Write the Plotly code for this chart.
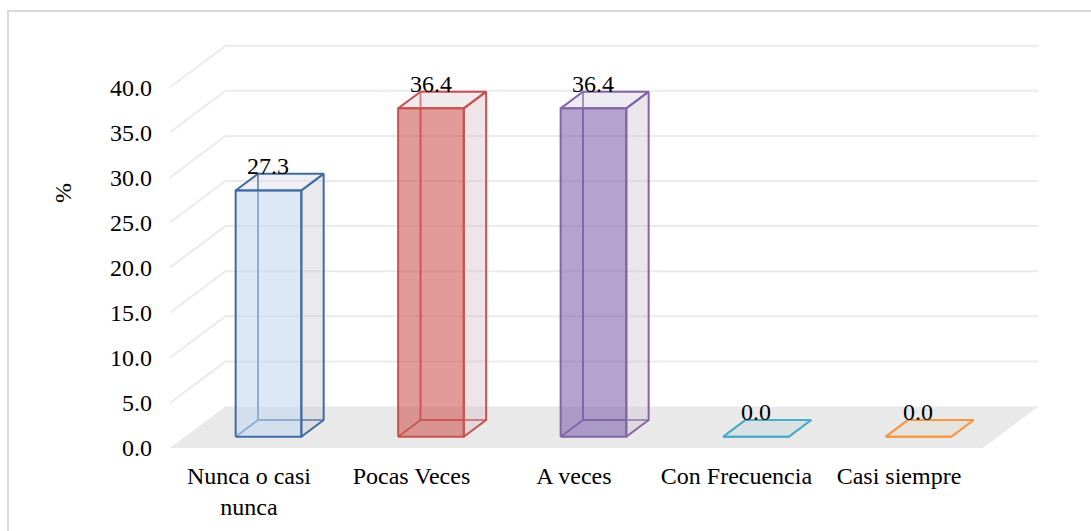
import plotly.graph_objects as go

# Response categories and their percentages
categories = ["Nunca o casi<br>nunca", "Pocas Veces", "A veces", "Con Frecuencia", "Casi siempre"]
percentages = [27.3, 36.4, 36.4, 0.0, 0.0]
y_ticks = [0, 5, 10, 15, 20, 25, 30, 35, 40]

# Per-bar styling: edge colour, front face, side face, top face
edge_colors = ["#3f6ba2", "#c9524f", "#8466a6", "#4bacc6", "#f79646"]
front_fills = ["rgba(198,217,241,0.6)", "rgba(205,90,87,0.6)", "rgba(130,100,175,0.6)",
               "rgba(200,215,222,0.4)", "rgba(226,218,205,0.4)"]
side_fills = ["rgba(205,205,212,0.42)", "rgba(215,190,192,0.4)", "rgba(205,195,208,0.42)",
              "rgba(200,215,222,0.4)", "rgba(226,218,205,0.4)"]
top_fills = ["rgba(215,215,230,0.4)", "rgba(220,205,210,0.4)", "rgba(215,205,225,0.4)",
             "rgba(200,215,222,0.45)", "rgba(226,218,205,0.45)"]

FONT = "Liberation Serif, Times New Roman, serif"
W, H = 1091, 531
L, R, T, B = 170, 51, 40, 83

# Oblique projection of the 3-D chart box (in axis units)
X_RANGE = [-0.486, 4.868]
Y_RANGE = [0, 45.23]
DX, DY = 0.3415, 4.6          # full floor depth
Z0, Z1 = 0.272, 0.675         # front/back depth of the columns
BAR_SHIFT = 0.12              # column front centre relative to its category
HALF_W = 0.202
FLOOR_L, FLOOR_R = -0.486, 4.517

fig = go.Figure()

# floor
fig.add_trace(go.Scatter(
    x=[FLOOR_L, FLOOR_R, FLOOR_R + DX, FLOOR_L + DX, FLOOR_L],
    y=[0, 0, DY, DY, 0], mode="lines", fill="toself",
    fillcolor="#e9e9e9", line=dict(width=0), hoverinfo="skip", showlegend=False))

# side-wall and back-wall gridlines
gx, gy = [], []
for v in y_ticks[1:]:
    gx += [FLOOR_L, FLOOR_L + DX, FLOOR_R + DX, None]
    gy += [v, v + DY, v + DY, None]
fig.add_trace(go.Scatter(x=gx, y=gy, mode="lines", line=dict(color="#ebebeb", width=2),
                         hoverinfo="skip", showlegend=False))

dx = (Z1 - Z0) * DX
dy = (Z1 - Z0) * DY
annotations = []
for i, (val, ec) in enumerate(zip(percentages, edge_colors)):
    c = i + BAR_SHIFT
    xl, xr = c - HALF_W, c + HALF_W
    yb = Z0 * DY
    yt = val + Z0 * DY
    # edges seen through the front face
    fig.add_trace(go.Scatter(
        x=[xl + dx, xl + dx, None, xl + dx, xr + dx, None, xl, xl + dx],
        y=[yb + dy, yt + dy, None, yb + dy, yb + dy, None, yb, yb + dy],
        mode="lines", line=dict(color=ec, width=2), hoverinfo="skip", showlegend=False))
    # right side face
    fig.add_trace(go.Scatter(
        x=[xr, xr + dx, xr + dx, xr, xr], y=[yb, yb + dy, yt + dy, yt, yb],
        mode="lines", fill="toself", fillcolor=side_fills[i],
        line=dict(color=ec, width=2), hoverinfo="skip", showlegend=False))
    # top face
    fig.add_trace(go.Scatter(
        x=[xl, xr, xr + dx, xl + dx, xl], y=[yt, yt, yt + dy, yt + dy, yt],
        mode="lines", fill="toself", fillcolor=top_fills[i],
        line=dict(color=ec, width=2), hoverinfo="skip", showlegend=False))
    # front face
    fig.add_trace(go.Scatter(
        x=[xl, xr, xr, xl, xl], y=[yb, yb, yt, yt, yb],
        mode="lines", fill="toself", fillcolor=front_fills[i],
        line=dict(color=ec, width=2), hoverinfo="skip", showlegend=False))
    annotations.append(dict(
        x=c, y=val + Z1 * DY, xref="x", yref="y", text=f"{val:.1f}",
        showarrow=False, xanchor="center", yanchor="bottom", yshift=-7,
        font=dict(family=FONT, size=24, color="black")))

pw, ph = W - L - R, H - T - B

# axis title
annotations.append(dict(
    x=(63 - L) / pw, y=(H - B - 193) / ph, xref="paper", yref="paper",
    text="%", textangle=-90, showarrow=False, xanchor="center", yanchor="middle",
    font=dict(family=FONT, size=24, color="black")))

frame = dict(type="rect", xref="paper", yref="paper",
             x0=(8 - L) / pw, x1=(W + 10 - L) / pw,
             y0=(H - B - (H + 10)) / ph, y1=(H - B - 11) / ph,
             line=dict(color="#d9d9d9", width=2), fillcolor="rgba(0,0,0,0)", layer="below")

fig.update_layout(
    width=W, height=H,
    margin=dict(l=L, r=R, t=T, b=B, pad=0),
    paper_bgcolor="white", plot_bgcolor="white",
    font=dict(family=FONT, size=24, color="black"),
    xaxis=dict(range=X_RANGE, tickmode="array", tickvals=list(range(len(categories))),
               ticktext=categories, showgrid=False, zeroline=False, showline=False,
               ticks="", ticklabelstandoff=11, fixedrange=True),
    yaxis=dict(range=Y_RANGE, tickmode="array", tickvals=y_ticks,
               ticktext=[f"{v:.1f}" for v in y_ticks], showgrid=False, zeroline=False,
               showline=False, ticks="", ticklabelstandoff=17, fixedrange=True),
    annotations=annotations,
    shapes=[frame],
    showlegend=False,
)

fig.write_html("out.html")
